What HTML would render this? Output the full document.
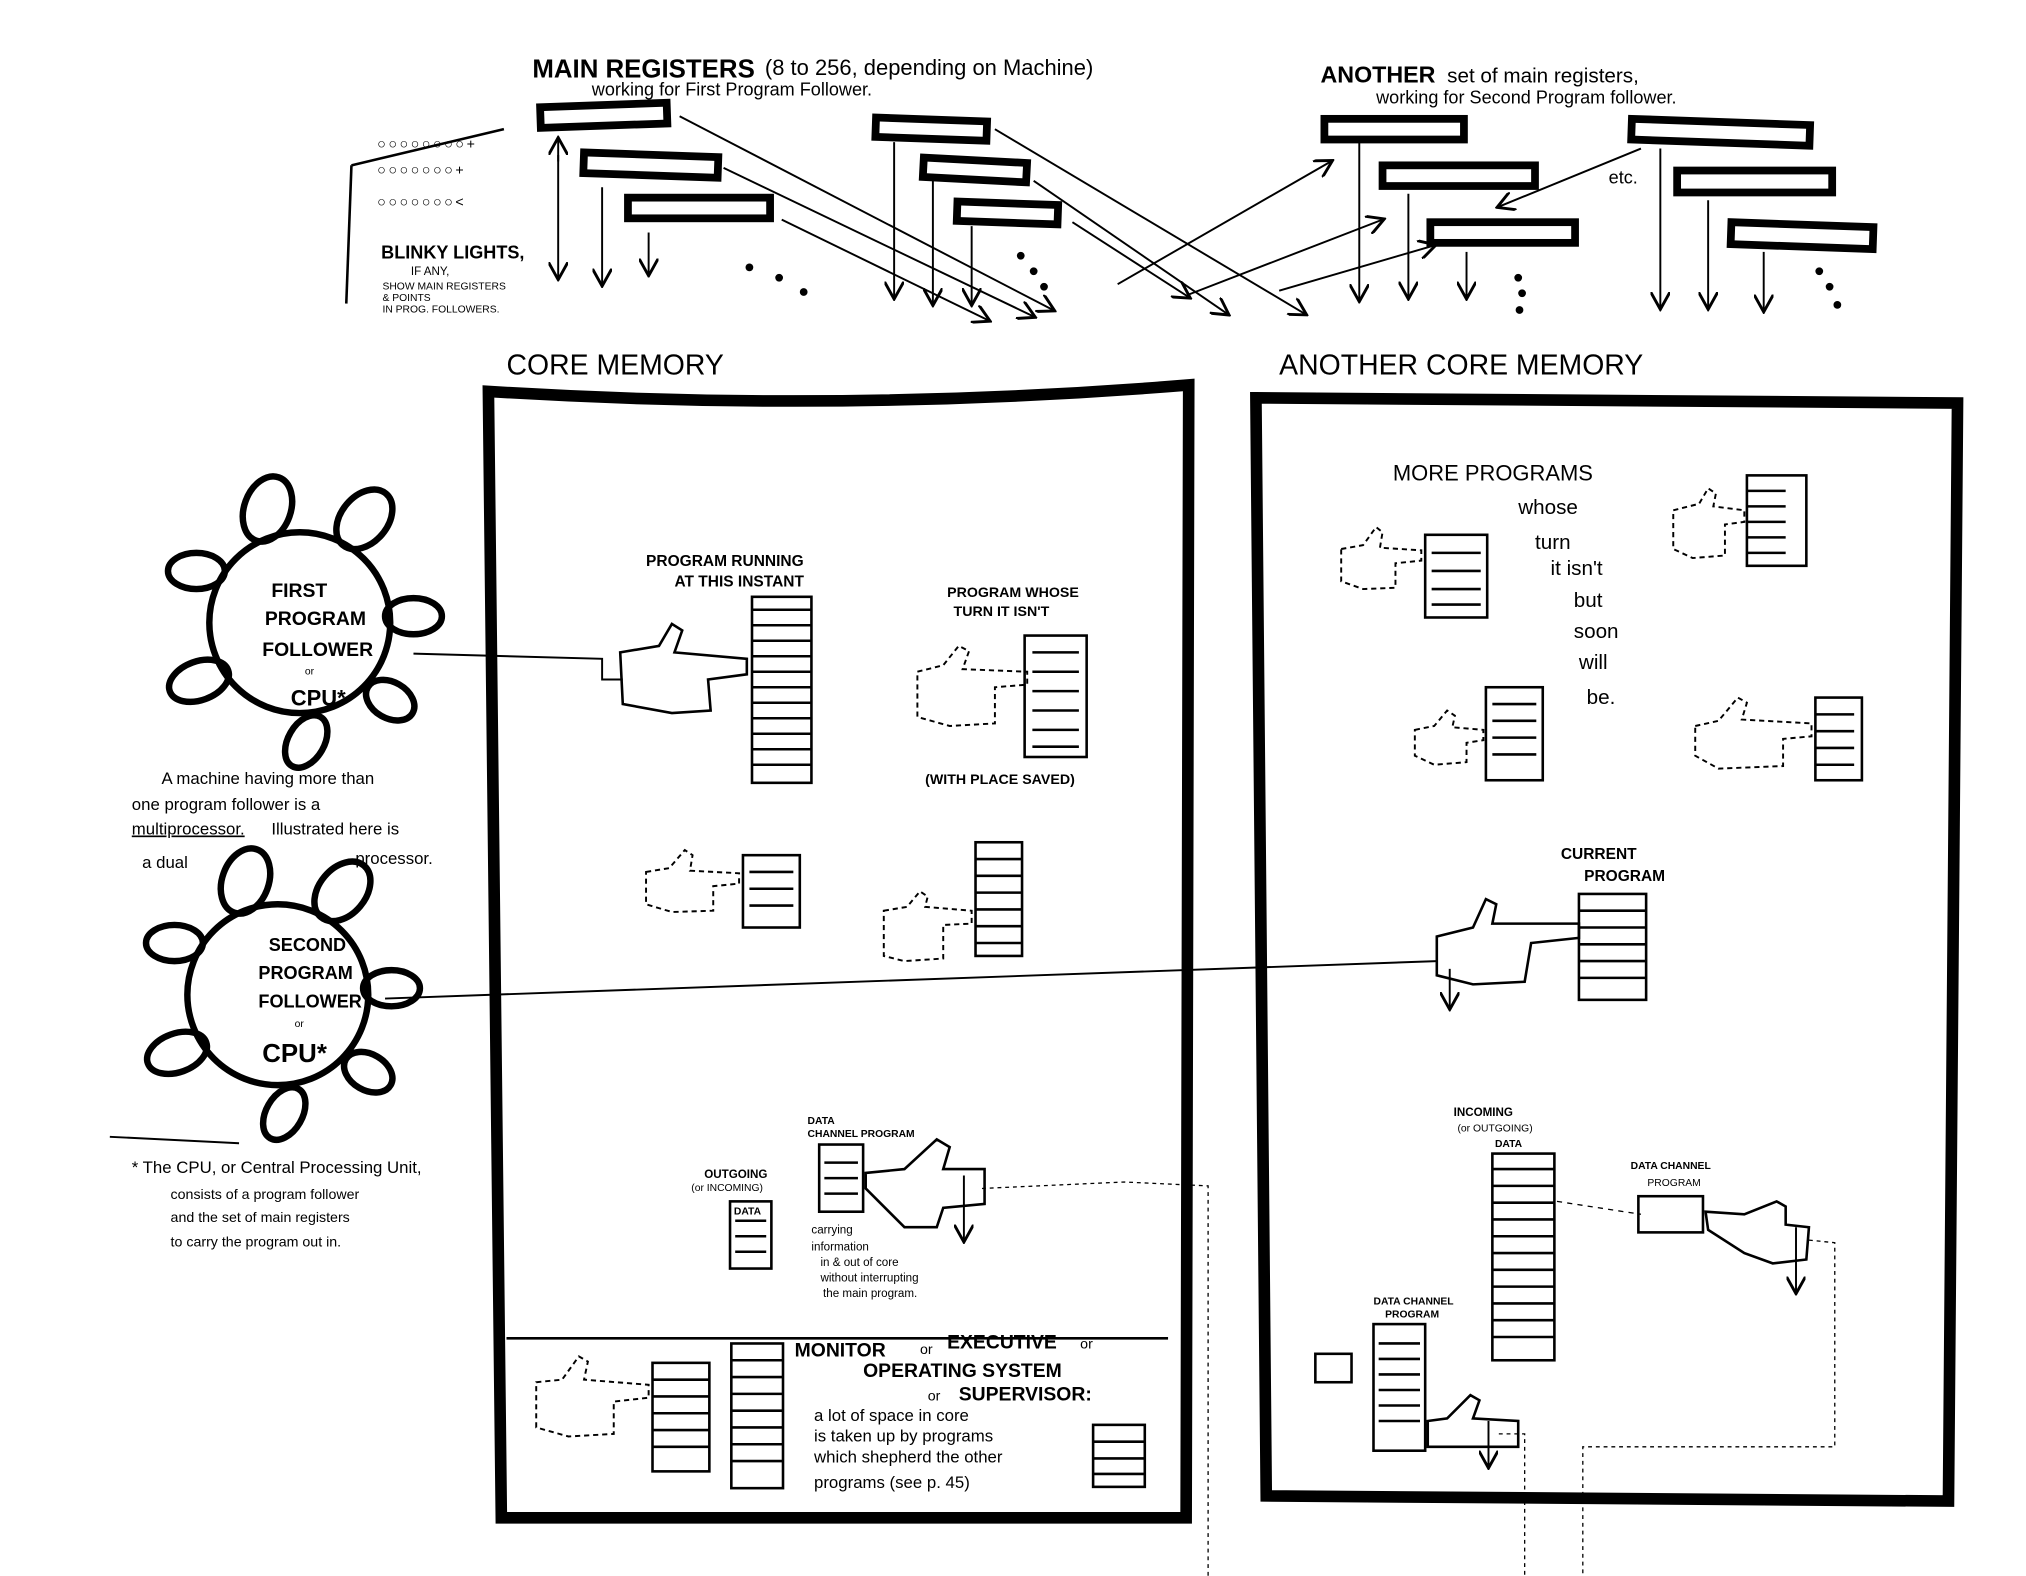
<!DOCTYPE html>
<html><head><meta charset="utf-8"><style>
html,body{margin:0;padding:0;background:#fff}
svg{display:block}
text{font-family:"Liberation Sans",sans-serif;fill:#000}
.h{font-weight:bold}
</style></head><body>
<svg width="2026" height="1576" viewBox="0 0 1568 1220" preserveAspectRatio="none" xmlns="http://www.w3.org/2000/svg">
<defs>
<marker id="a" markerWidth="10" markerHeight="10" refX="8" refY="5" orient="auto"><path d="M0,0 L9,5 L0,10" fill="none" stroke="#000" stroke-width="1.5"/></marker>
<g id="loopring" fill="none" stroke="#000" stroke-width="5">
<circle cx="0" cy="0" r="70"/>
<ellipse cx="-25" cy="-88" rx="18" ry="26" transform="rotate(20 -25 -88)"/>
<ellipse cx="50" cy="-80" rx="18" ry="26" transform="rotate(40 50 -80)"/>
<ellipse cx="-80" cy="-40" rx="22" ry="14"/>
<ellipse cx="88" cy="-5" rx="22" ry="14"/>
<ellipse cx="-78" cy="45" rx="24" ry="15" transform="rotate(-20 -78 45)"/>
<ellipse cx="70" cy="60" rx="20" ry="14" transform="rotate(30 70 60)"/>
<ellipse cx="5" cy="92" rx="14" ry="22" transform="rotate(30 5 92)"/>
</g>
</defs>
<g fill="none" stroke="#000">
<path d="M378,303 Q650,320 920,298 L918,1175 L388,1175 Z" stroke-width="9"/>
<line x1="392" y1="1036" x2="904" y2="1036" stroke-width="2"/>
<path d="M972,308 L1515,312 L1508,1162 L980,1158 Z" stroke-width="9"/>
<use href="#loopring" x="232" y="482"/>
<use href="#loopring" x="215" y="770"/>
<polyline points="320,506 466,510 466,526 482,526" stroke-width="1.5"/>
<line x1="298" y1="773" x2="1112" y2="744" stroke-width="1.5"/>
<line x1="85" y1="880" x2="185" y2="885" stroke-width="1.5"/>
<polyline points="760,920 870,915 935,918 935,1220" stroke-width="1" stroke-dasharray="3,3"/>
<polyline points="1400,960 1420,962 1420,1120 1225,1120 1225,1220" stroke-width="1" stroke-dasharray="3,3"/>
<polyline points="1160,1110 1180,1110 1180,1220" stroke-width="1" stroke-dasharray="3,3"/>
<line x1="1205" y1="930" x2="1270" y2="940" stroke-width="1" stroke-dasharray="4,4"/>
<g stroke-width="6">
<rect x="418" y="83" width="98" height="16" transform="rotate(-2 418 83)"/>
<rect x="452" y="118" width="104" height="16" transform="rotate(2 452 118)"/>
<rect x="486" y="153" width="110" height="16"/>
<rect x="678" y="91" width="86" height="15" transform="rotate(2 678 91)"/>
<rect x="715" y="122" width="80" height="15" transform="rotate(3 715 122)"/>
<rect x="741" y="156" width="78" height="15" transform="rotate(2 741 156)"/>
<rect x="1025" y="92" width="108" height="16"/>
<rect x="1070" y="128" width="118" height="16"/>
<rect x="1107" y="172" width="112" height="16"/>
<rect x="1263" y="92" width="138" height="16" transform="rotate(2 1263 92)"/>
<rect x="1298" y="132" width="120" height="17"/>
<rect x="1340" y="172" width="110" height="17" transform="rotate(2 1340 172)"/>
</g>
<g stroke-width="1.5" marker-end="url(#a)">
<line x1="432" y1="120" x2="432" y2="215"/><line x1="432" y1="125" x2="432" y2="108"/>
<line x1="466" y1="145" x2="466" y2="220"/>
<line x1="502" y1="180" x2="502" y2="212"/>
<line x1="692" y1="110" x2="692" y2="230"/>
<line x1="722" y1="140" x2="722" y2="235"/>
<line x1="752" y1="175" x2="752" y2="235"/>
<line x1="526" y1="90" x2="815" y2="240"/>
<line x1="560" y1="130" x2="800" y2="245"/>
<line x1="605" y1="170" x2="765" y2="248"/>
<line x1="770" y1="100" x2="1010" y2="243"/>
<line x1="800" y1="140" x2="950" y2="243"/>
<line x1="830" y1="172" x2="920" y2="230"/>
<line x1="865" y1="220" x2="1030" y2="125"/>
<line x1="920" y1="228" x2="1070" y2="170"/>
<line x1="990" y1="225" x2="1110" y2="190"/>
<line x1="1270" y1="115" x2="1160" y2="160"/>
<line x1="1052" y1="110" x2="1052" y2="232"/>
<line x1="1090" y1="150" x2="1090" y2="230"/>
<line x1="1135" y1="195" x2="1135" y2="230"/>
<line x1="1285" y1="115" x2="1285" y2="238"/>
<line x1="1322" y1="155" x2="1322" y2="238"/>
<line x1="1365" y1="195" x2="1365" y2="240"/>
<line x1="1122" y1="750" x2="1122" y2="780"/>
<line x1="746" y1="910" x2="746" y2="960"/>
<line x1="1390" y1="950" x2="1390" y2="1000"/>
<line x1="1152" y1="1100" x2="1152" y2="1135"/>
</g>
<line x1="272" y1="128" x2="268" y2="235" stroke-width="2"/>
<line x1="272" y1="128" x2="390" y2="100" stroke-width="2"/>
<g stroke-width="2">
<rect x="582" y="462" width="46" height="144"/>
<path d="M582,472h46M582,484h46M582,496h46M582,508h46M582,520h46M582,532h46M582,544h46M582,556h46M582,568h46M582,580h46M582,592h46"/>
<rect x="793" y="492" width="48" height="94"/>
<path d="M799,505h36M799,520h36M799,535h36M799,550h36M799,565h36M799,578h36"/>
<rect x="575" y="662" width="44" height="56"/>
<path d="M580,675h34M580,688h34M580,701h34"/>
<rect x="755" y="652" width="36" height="88"/>
<path d="M755,665h36M755,678h36M755,691h36M755,704h36M755,717h36M755,730h36"/>
<rect x="1103" y="414" width="48" height="64"/>
<path d="M1108,428h38M1108,442h38M1108,456h38M1108,468h38"/>
<rect x="1352" y="368" width="46" height="70"/>
<path d="M1352,380h30M1352,392h30M1352,404h30M1352,416h30M1352,428h30"/>
<rect x="1150" y="532" width="44" height="72"/>
<path d="M1155,545h34M1155,558h34M1155,571h34M1155,584h34"/>
<rect x="1405" y="540" width="36" height="64"/>
<path d="M1405,553h30M1405,566h30M1405,579h30M1405,592h30"/>
<rect x="1222" y="692" width="52" height="82"/>
<path d="M1222,705h52M1222,718h52M1222,731h52M1222,744h52M1222,757h52"/>
<rect x="1155" y="893" width="48" height="160"/>
<path d="M1155,905h48M1155,918h48M1155,931h48M1155,944h48M1155,957h48M1155,970h48M1155,983h48M1155,996h48M1155,1009h48M1155,1022h48M1155,1035h48"/>
<rect x="634" y="886" width="34" height="52"/>
<path d="M638,900h26M638,912h26M638,924h26"/>
<rect x="565" y="930" width="32" height="52"/>
<path d="M569,945h24M569,957h24M569,969h24"/>
<rect x="1268" y="926" width="50" height="28"/>
<rect x="1063" y="1025" width="40" height="98"/>
<path d="M1067,1040h32M1067,1052h32M1067,1064h32M1067,1076h32M1067,1088h32M1067,1100h32"/>
<rect x="1018" y="1048" width="28" height="22"/>
<rect x="505" y="1055" width="44" height="84"/>
<path d="M505,1068h44M505,1081h44M505,1094h44M505,1107h44M505,1120h44"/>
<rect x="566" y="1040" width="40" height="112"/>
<path d="M566,1053h40M566,1066h40M566,1079h40M566,1092h40M566,1105h40M566,1118h40M566,1131h40"/>
<rect x="846" y="1103" width="40" height="48"/>
<path d="M846,1116h40M846,1129h40M846,1141h40"/>
</g>
<g stroke-width="2">
<path d="M480,505 L510,500 L520,483 L528,488 L522,505 L578,510 L578,522 L548,526 L550,550 L520,552 L482,545 Z"/>
<path d="M1112,725 L1140,718 L1150,696 L1158,700 L1155,715 L1222,715 L1222,726 L1185,730 L1180,760 L1140,762 L1112,755 Z"/>
<path d="M670,908 L700,905 L725,882 L735,888 L730,905 L762,905 L762,932 L730,935 L725,950 L700,950 L670,920 Z"/>
<path d="M1320,938 L1350,940 L1375,930 L1382,934 L1382,948 L1400,950 L1398,975 L1372,978 L1350,970 L1322,952 Z"/>
<path d="M1105,1100 L1120,1098 L1138,1080 L1145,1084 L1140,1098 L1175,1100 L1175,1120 L1105,1120 Z"/>
</g>
<g stroke-width="1.5" stroke-dasharray="4,3">
<path d="M710,520 L730,515 L742,500 L750,504 L745,518 L795,520 L795,530 L770,532 L770,560 L735,562 L710,555 Z"/>
<path d="M500,675 L518,672 L530,658 L536,662 L534,674 L572,676 L572,684 L552,686 L552,705 L520,706 L500,700 Z"/>
<path d="M684,705 L702,702 L712,690 L718,694 L716,702 L752,705 L752,715 L730,716 L730,742 L700,744 L684,740 Z"/>
<path d="M1038,425 L1055,422 L1065,408 L1070,412 L1068,424 L1100,426 L1100,434 L1080,436 L1080,455 L1055,456 L1038,450 Z"/>
<path d="M1295,395 L1315,390 L1322,378 L1328,382 L1326,392 L1350,395 L1350,404 L1335,406 L1335,430 L1310,432 L1295,425 Z"/>
<path d="M1095,565 L1110,562 L1120,550 L1126,554 L1124,563 L1148,565 L1148,573 L1135,575 L1135,590 L1110,592 L1095,585 Z"/>
<path d="M1312,562 L1330,558 L1345,540 L1352,544 L1348,557 L1402,560 L1402,570 L1380,572 L1380,593 L1330,595 L1312,585 Z"/>
<path d="M415,1070 L435,1068 L448,1050 L455,1054 L452,1068 L502,1072 L502,1082 L475,1085 L475,1110 L440,1112 L415,1105 Z"/>
</g>
</g>
<g fill="#000">
<circle cx="580" cy="207" r="3"/><circle cx="603" cy="215" r="3"/><circle cx="622" cy="226" r="3"/>
<circle cx="790" cy="198" r="3"/><circle cx="800" cy="210" r="3"/><circle cx="808" cy="222" r="3"/>
<circle cx="1175" cy="215" r="3"/><circle cx="1178" cy="227" r="3"/><circle cx="1176" cy="240" r="3"/>
<circle cx="1408" cy="210" r="3"/><circle cx="1416" cy="222" r="3"/><circle cx="1422" cy="236" r="3"/>
</g>
<text x="412" y="60" font-size="20" class="h">MAIN REGISTERS</text>
<text x="592" y="58" font-size="17">(8 to 256, depending on Machine)</text>
<text x="458" y="74" font-size="14">working for First Program Follower.</text>
<text x="1022" y="64" font-size="18" class="h">ANOTHER</text>
<text x="1120" y="64" font-size="16">set of main registers,</text>
<text x="1065" y="80" font-size="14">working  for  Second  Program  follower.</text>
<text x="1245" y="142" font-size="14">etc.</text>
<text x="292" y="115" font-size="11" letter-spacing="2">○○○○○○○○+</text>
<text x="292" y="135" font-size="11" letter-spacing="2">○○○○○○○+</text>
<text x="292" y="160" font-size="11" letter-spacing="2">○○○○○○○&lt;</text>
<text x="295" y="200" font-size="14" class="h">BLINKY LIGHTS,</text>
<text x="318" y="213" font-size="9">IF ANY,</text>
<text x="296" y="224" font-size="8">SHOW MAIN REGISTERS</text>
<text x="296" y="233" font-size="8">&amp; POINTS</text>
<text x="296" y="242" font-size="8">IN PROG. FOLLOWERS.</text>
<text x="392" y="290" font-size="22">CORE  MEMORY</text>
<text x="990" y="290" font-size="22">ANOTHER  CORE  MEMORY</text>
<text x="1078" y="372" font-size="17">MORE  PROGRAMS</text>
<text x="1175" y="398" font-size="16">whose</text>
<text x="1188" y="425" font-size="16">turn</text>
<text x="1200" y="445" font-size="16">it isn't</text>
<text x="1218" y="470" font-size="16">but</text>
<text x="1218" y="494" font-size="16">soon</text>
<text x="1222" y="518" font-size="16">will</text>
<text x="1228" y="545" font-size="16">be.</text>
<text x="500" y="438" font-size="12" class="h">PROGRAM RUNNING</text>
<text x="522" y="454" font-size="12" class="h">AT THIS INSTANT</text>
<text x="733" y="462" font-size="11" class="h">PROGRAM WHOSE</text>
<text x="738" y="477" font-size="11" class="h">TURN IT ISN'T</text>
<text x="716" y="607" font-size="11" class="h">(WITH PLACE SAVED)</text>
<text x="1208" y="665" font-size="12" class="h">CURRENT</text>
<text x="1226" y="682" font-size="12" class="h">PROGRAM</text>
<text x="210" y="462" font-size="15" class="h">FIRST</text>
<text x="205" y="484" font-size="15" class="h">PROGRAM</text>
<text x="203" y="508" font-size="15" class="h">FOLLOWER</text>
<text x="236" y="522" font-size="8">or</text>
<text x="225" y="546" font-size="17" class="h">CPU*</text>
<text x="208" y="736" font-size="14" class="h">SECOND</text>
<text x="200" y="758" font-size="14" class="h">PROGRAM</text>
<text x="200" y="780" font-size="14" class="h">FOLLOWER</text>
<text x="228" y="795" font-size="8">or</text>
<text x="203" y="822" font-size="20" class="h">CPU*</text>
<text x="125" y="607" font-size="13">A machine having more than</text>
<text x="102" y="627" font-size="13">one program follower is a</text>
<text x="102" y="646" font-size="13" text-decoration="underline">multiprocessor.</text>
<text x="210" y="646" font-size="13">Illustrated here is</text>
<text x="110" y="672" font-size="13">a dual</text>
<text x="275" y="669" font-size="13">processor.</text>
<text x="102" y="908" font-size="13">* The CPU, or Central Processing Unit,</text>
<text x="132" y="928" font-size="11">consists of a program follower</text>
<text x="132" y="946" font-size="11">and the set of main registers</text>
<text x="132" y="965" font-size="11">to carry the program out in.</text>
<text x="625" y="870" font-size="8" class="h">DATA</text>
<text x="625" y="880" font-size="8" class="h">CHANNEL PROGRAM</text>
<text x="545" y="912" font-size="9" class="h">OUTGOING</text>
<text x="535" y="922" font-size="8">(or INCOMING)</text>
<text x="568" y="940" font-size="8" class="h">DATA</text>
<text x="628" y="955" font-size="9">carrying</text>
<text x="628" y="968" font-size="9">information</text>
<text x="635" y="980" font-size="9">in &amp; out of core</text>
<text x="635" y="992" font-size="9">without interrupting</text>
<text x="637" y="1004" font-size="9">the main program.</text>
<text x="1125" y="864" font-size="9" class="h">INCOMING</text>
<text x="1128" y="876" font-size="8">(or OUTGOING)</text>
<text x="1157" y="888" font-size="8" class="h">DATA</text>
<text x="1262" y="905" font-size="8" class="h">DATA CHANNEL</text>
<text x="1275" y="918" font-size="8">PROGRAM</text>
<text x="1063" y="1010" font-size="8" class="h">DATA CHANNEL</text>
<text x="1072" y="1020" font-size="8" class="h">PROGRAM</text>
<text x="615" y="1050" font-size="15" class="h">MONITOR</text>
<text x="712" y="1048" font-size="11">or</text>
<text x="733" y="1044" font-size="15" class="h">EXECUTIVE</text>
<text x="836" y="1044" font-size="11">or</text>
<text x="668" y="1066" font-size="15" class="h">OPERATING SYSTEM</text>
<text x="718" y="1084" font-size="11">or</text>
<text x="742" y="1084" font-size="15" class="h">SUPERVISOR:</text>
<text x="630" y="1100" font-size="13">a  lot of space in core</text>
<text x="630" y="1116" font-size="13">is taken up by programs</text>
<text x="630" y="1132" font-size="13">which shepherd the other</text>
<text x="630" y="1152" font-size="13">programs (see p.   45)</text>
</svg>
</body></html>
